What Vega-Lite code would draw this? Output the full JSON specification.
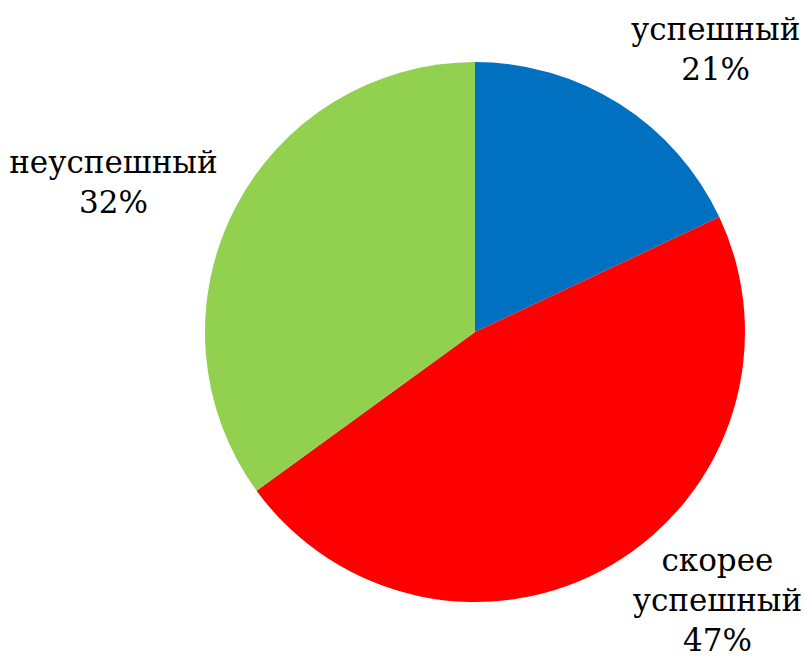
{
  "$schema": "https://vega.github.io/schema/vega-lite/v6.json",
  "autosize": {"type": "none"},
  "width": 658,
  "height": 664,
  "padding": {"left": 146, "right": 0, "top": 0, "bottom": 0},
  "background": "white",
  "config": {"view": {"stroke": null}},
  "data": {
    "values": [
      {"cat": "успешный", "value": 18, "label": "успешный\n21%", "ord": 1},
      {"cat": "скорее успешный", "value": 47, "label": "скорее\nуспешный\n47%", "ord": 2},
      {"cat": "неуспешный", "value": 35, "label": "неуспешный\n32%", "ord": 3}
    ]
  },
  "encoding": {
    "theta": {"field": "value", "type": "quantitative", "stack": true},
    "order": {"field": "ord", "type": "quantitative", "sort": "ascending"}
  },
  "layer": [
    {
      "mark": {"type": "arc", "outerRadius": 270},
      "encoding": {
        "color": {
          "field": "cat",
          "type": "nominal",
          "scale": {"domain": ["успешный", "скорее успешный", "неуспешный"], "range": ["#0070C0", "#FF0000", "#92D050"]},
          "legend": null
        }
      }
    },
    {
      "mark": {"type": "text", "radius": 380, "font": "DejaVu Serif", "fontSize": 31, "lineHeight": 40, "lineBreak": "\n", "color": "black", "align": "center", "baseline": "middle", "dx": 37, "dy": 20},
      "encoding": {
        "text": {"condition": {"test": "datum.cat === 'успешный'", "field": "label"}, "value": ""}
      }
    },
    {
      "mark": {"type": "text", "radius": 380, "font": "DejaVu Serif", "fontSize": 31, "lineHeight": 40, "lineBreak": "\n", "color": "black", "align": "center", "baseline": "middle", "dx": 49, "dy": -97},
      "encoding": {
        "text": {"condition": {"test": "datum.cat === 'скорее успешный'", "field": "label"}, "value": ""}
      }
    },
    {
      "mark": {"type": "text", "radius": 380, "font": "DejaVu Serif", "fontSize": 31, "lineHeight": 40, "lineBreak": "\n", "color": "black", "align": "center", "baseline": "middle", "dx": -23, "dy": 5},
      "encoding": {
        "text": {"condition": {"test": "datum.cat === 'неуспешный'", "field": "label"}, "value": ""}
      }
    }
  ]
}
